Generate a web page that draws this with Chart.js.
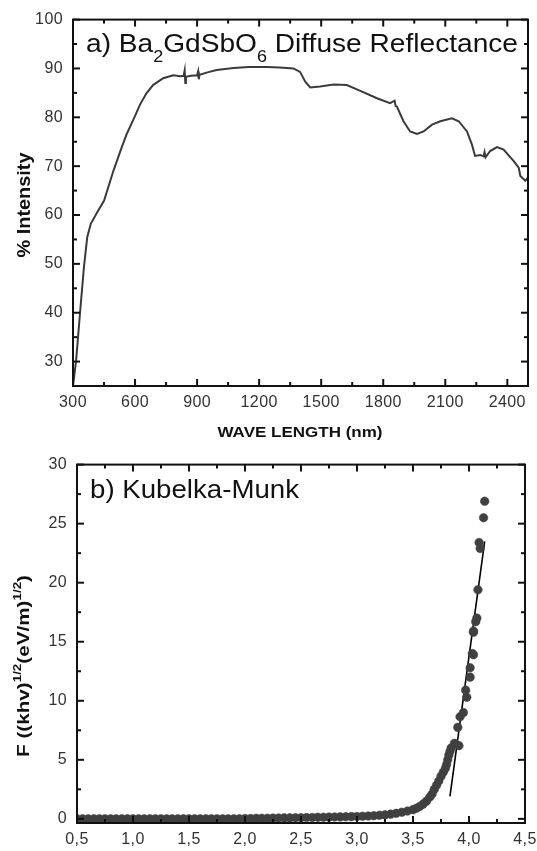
<!DOCTYPE html>
<html>
<head>
<meta charset="utf-8">
<title>Ba2GdSbO6 diffuse reflectance / Kubelka-Munk</title>
<script src="https://cdn.jsdelivr.net/npm/chart.js@4.4.1/dist/chart.umd.min.js"></script>
<style>
    html, body { margin: 0; padding: 0; background: #fff; }
    #wrap { position: relative; width: 537px; height: 851px; }
    .box { position: absolute; left: 0; width: 537px; }
    #boxA { top: 0; height: 445px; }
    #boxB { top: 445px; height: 406px; }
</style>
</head>
<body>
<div id="wrap">
    <div class="box" id="boxA"><canvas id="reflChart"></canvas></div>
    <div class="box" id="boxB"><canvas id="kmChart"></canvas></div>
</div>
<script>
// ========== DATA ==========

// (a) diffuse reflectance
const waveLength = [300, 315, 334, 353, 369, 386, 422, 450, 495, 535, 559, 599, 624, 655, 687, 736, 784,
    820, 835, 840, 843, 846, 870, 900, 905, 908, 912, 950, 995, 1076, 1150, 1237, 1300, 1366, 1398, 1423,
    1447, 1495, 1560, 1624, 1689, 1770, 1833, 1855, 1860, 1866, 1898, 1930, 1963, 1995, 2036, 2076, 2132,
    2165, 2205, 2229, 2244, 2269, 2285, 2290, 2295, 2317, 2350, 2382, 2430, 2455, 2463, 2487, 2500];
const intensity = [25.0, 30.2, 40.0, 49.4, 55.5, 58.2, 60.9, 62.9, 69.0, 73.8, 76.5, 80.2, 82.6, 84.9, 86.6, 88.0, 88.6,
    88.4, 88.5, 89.6, 87.0, 88.3, 88.5, 88.6, 89.4, 87.8, 88.7, 89.2, 89.7, 90.1, 90.3, 90.3, 90.2, 90.0, 89.3, 87.3,
    86.1, 86.3, 86.7, 86.6, 85.4, 83.9, 82.9, 83.4, 82.3, 82.2, 79.2, 77.1, 76.6, 77.1, 78.5, 79.2, 79.8,
    79.2, 77.1, 74.4, 72.1, 72.3, 72.0, 72.9, 71.8, 73.1, 73.9, 73.4, 71.1, 69.7, 68.0, 67.0, 67.7];
const waveMajorTicks = [300, 600, 900, 1200, 1500, 1800, 2100, 2400];
const waveMinorTicks = [450, 750, 1050, 1350, 1650, 1950, 2250];
const intensityMajorTicks = [30, 40, 50, 60, 70, 80, 90, 100];
const intensityMinorTicks = [35, 45, 55, 65, 75, 85, 95];

// (b) Kubelka-Munk
const kmEnergy = [0.50, 0.55, 0.60, 0.65, 0.70, 0.75, 0.80, 0.85, 0.90, 0.95,
    1.00, 1.05, 1.10, 1.15, 1.20, 1.25, 1.30, 1.35, 1.40, 1.45,
    1.50, 1.55, 1.60, 1.65, 1.70, 1.75, 1.80, 1.85, 1.90, 1.95,
    2.00, 2.05, 2.10, 2.15, 2.20, 2.25, 2.30, 2.35, 2.40, 2.45,
    2.50, 2.55, 2.60, 2.65, 2.70, 2.75, 2.80, 2.85, 2.90, 2.95,
    3.00, 3.05, 3.10, 3.15, 3.20, 3.25, 3.30, 3.35, 3.40, 3.45,
    3.50, 3.53, 3.56, 3.59, 3.62, 3.65, 3.67, 3.69, 3.71, 3.73, 3.75, 3.77, 3.79, 3.80, 3.81, 3.82, 3.83,
    3.84, 3.87, 3.91, 3.90, 3.92, 3.95, 3.98, 3.97, 4.01, 4.01, 4.03, 4.04, 4.04, 4.04, 4.06, 4.07, 4.08,
    4.09, 4.10, 4.13, 4.14];
const kmValue = [0, 0, 0, 0, 0, 0, 0, 0, 0, 0,
    0, 0, 0, 0, 0, 0, 0, 0, 0, 0,
    0, 0, 0, 0, 0, 0, 0, 0, 0, 0,
    0.03, 0.03, 0.04, 0.05, 0.05, 0.06, 0.07, 0.08, 0.08, 0.09,
    0.10, 0.11, 0.12, 0.13, 0.14, 0.15, 0.16, 0.17, 0.18, 0.19,
    0.20, 0.22, 0.24, 0.27, 0.30, 0.34, 0.40, 0.47, 0.56, 0.66,
    0.78, 0.90, 1.05, 1.25, 1.50, 1.85, 2.10, 2.50, 2.85, 3.20, 3.60, 3.95, 4.30, 4.60, 5.00, 5.40, 5.70,
    6.0, 6.4, 6.2, 7.75, 8.65, 9.0, 10.3, 10.9, 12.0, 12.8, 14.0, 13.9, 15.8, 15.9, 16.7, 17.0, 19.4,
    23.4, 22.9, 25.5, 26.9];
// linear fit of the absorption edge
const fitEnergy = [3.83, 4.14];
const fitValue = [1.9, 23.5];
const energyMajorTicks = [0.5, 1.0, 1.5, 2.0, 2.5, 3.0, 3.5, 4.0, 4.5];
const energyMinorTicks = [0.75, 1.25, 1.75, 2.25, 2.75, 3.25, 3.75, 4.25];
const kmMajorTicks = [0, 5, 10, 15, 20, 25, 30];
const kmMinorTicks = [2.5, 7.5, 12.5, 17.5, 22.5, 27.5];

// ========== HELPERS ==========

const FAMILY = '"Liberation Sans", Arial, sans-serif';

// draws text made of normal / sub / sup pieces, optionally squeezed to a width
function richText(ctx, parts, x, y, opt) {
    const size = opt.size, weight = opt.weight || 'normal';
    const fontFor = p => weight + ' ' + (p.s ? Math.round(size * 0.62) : size) + 'px ' + FAMILY;
    ctx.save();
    ctx.letterSpacing = '0px';
    ctx.fillStyle = opt.color || '#111';
    ctx.textBaseline = 'alphabetic';
    ctx.textAlign = 'left';
    ctx.translate(x, y);
    if (opt.rotate) ctx.rotate(-Math.PI / 2);
    let w = 0;
    parts.forEach(p => { ctx.font = fontFor(p); w += ctx.measureText(p.t).width; });
    const sx = opt.width ? opt.width / w : 1;
    if (opt.center) ctx.translate(-w * sx / 2, 0);
    ctx.scale(sx, 1);
    let cx = 0;
    parts.forEach(p => {
        ctx.font = fontFor(p);
        const dy = p.s === 'sub' ? size * 0.4 : (p.s === 'sup' ? -size * 0.45 : 0);
        ctx.fillText(p.t, cx, dy);
        cx += ctx.measureText(p.t).width;
    });
    ctx.restore();
}

// box frame + inward ticks on all four sides, then the text labels
const framePlugin = {
    id: 'frame',
    beforeDraw(chart) {
        chart.ctx.letterSpacing = '0.4px';
    },
    afterDraw(chart, args, opts) {
        const {ctx, chartArea: a, scales: {x, y}} = chart;
        ctx.save();
        ctx.strokeStyle = '#111';
        ctx.lineWidth = 2;
        const seg = (x1, y1, x2, y2) => {
            ctx.beginPath(); ctx.moveTo(x1, y1); ctx.lineTo(x2, y2); ctx.stroke();
        };
        const xTicks = (vals, len) => vals.forEach(v => {
            const px = x.getPixelForValue(v);
            seg(px, a.bottom, px, a.bottom - len);
            seg(px, a.top, px, a.top + len);
        });
        const yTicks = (vals, len) => vals.forEach(v => {
            const py = y.getPixelForValue(v);
            seg(a.left, py, a.left + len, py);
            seg(a.right, py, a.right - len, py);
        });
        xTicks(opts.xMajor, 7); xTicks(opts.xMinor, 4);
        yTicks(opts.yMajor, 7); yTicks(opts.yMinor, 4);
        ctx.strokeRect(a.left, a.top, a.width, a.height);
        ctx.restore();
        if (opts.labels) opts.labels(ctx);
    }
};

const tickFont = {family: FAMILY, size: 16};

// x scale keeps its fixed height and does not reserve room for edge labels
const fixXAxis = h => s => { s.height = h; s.paddingLeft = 0; s.paddingRight = 0; };

// ========== (a) DIFFUSE REFLECTANCE ==========

new Chart(document.getElementById('reflChart'), {
    type: 'line',
    data: {
        datasets: [{
            data: waveLength.map((w, i) => ({x: w, y: intensity[i]})),
            borderColor: '#3a3a3a',
            borderWidth: 2,
            pointRadius: 0,
            tension: 0
        }]
    },
    options: {
        responsive: true,
        maintainAspectRatio: false,
        animation: false,
        layout: {padding: {top: 17, right: 9, left: 0, bottom: 0}},
        scales: {
            x: {
                type: 'linear', min: 300, max: 2500,
                afterFit: fixXAxis(445 - 386),
                grid: {display: false, drawTicks: false},
                border: {display: false},
                ticks: {stepSize: 300, includeBounds: false, padding: 7, color: '#333', font: tickFont,
                    autoSkip: false, maxRotation: 0, callback: v => String(v)}
            },
            y: {
                min: 25, max: 100,
                afterFit: s => { s.width = 73; },
                grid: {display: false, drawTicks: false},
                border: {display: false},
                ticks: {stepSize: 10, includeBounds: false, padding: 10, color: '#333', font: tickFont}
            }
        },
        plugins: {
            legend: {display: false},
            tooltip: {enabled: false},
            frame: {
                xMajor: waveMajorTicks, xMinor: waveMinorTicks,
                yMajor: intensityMajorTicks, yMinor: intensityMinorTicks,
                labels: ctx => {
                    richText(ctx, [{t: 'a) Ba'}, {t: '2', s: 'sub'}, {t: 'GdSbO'}, {t: '6', s: 'sub'},
                        {t: ' Diffuse Reflectance'}], 86, 52, {size: 25, width: 432});
                    richText(ctx, [{t: '% Intensity'}], 30, 205,
                        {size: 19, weight: 'bold', rotate: true, center: true, width: 105});
                    richText(ctx, [{t: 'WAVE LENGTH (nm)'}], 300, 437,
                        {size: 15, weight: 'bold', center: true, width: 165});
                }
            }
        }
    },
    plugins: [framePlugin]
});

// ========== (b) KUBELKA-MUNK ==========

new Chart(document.getElementById('kmChart'), {
    type: 'scatter',
    data: {
        datasets: [{
            data: kmEnergy.map((e, i) => ({x: e, y: kmValue[i]})),
            backgroundColor: '#404040',
            borderColor: '#404040',
            borderWidth: 0.5,
            pointRadius: 4.3
        }, {
            type: 'line',
            data: fitEnergy.map((e, i) => ({x: e, y: fitValue[i]})),
            borderColor: '#000',
            borderWidth: 1.6,
            pointRadius: 0
        }]
    },
    options: {
        responsive: true,
        maintainAspectRatio: false,
        animation: false,
        layout: {padding: {top: 17, right: 12, left: 0, bottom: 0}},
        scales: {
            x: {
                type: 'linear', min: 0.5, max: 4.5,
                afterFit: fixXAxis(406 - 378),
                grid: {display: false, drawTicks: false},
                border: {display: false},
                ticks: {stepSize: 0.5, padding: 7, color: '#333', font: tickFont, autoSkip: false,
                    maxRotation: 0, callback: v => v.toFixed(1).replace('.', ',')}
            },
            y: {
                min: -0.35, max: 30,
                afterFit: s => { s.width = 77; },
                grid: {display: false, drawTicks: false},
                border: {display: false},
                ticks: {stepSize: 5, includeBounds: false, padding: 10, color: '#333', font: tickFont}
            }
        },
        plugins: {
            legend: {display: false},
            tooltip: {enabled: false},
            frame: {
                xMajor: energyMajorTicks, xMinor: energyMinorTicks,
                yMajor: kmMajorTicks, yMinor: kmMinorTicks,
                labels: ctx => {
                    richText(ctx, [{t: 'b) Kubelka-Munk'}], 90, 53, {size: 25, width: 209});
                    richText(ctx, [{t: 'F ((khv)'}, {t: '1/2', s: 'sup'}, {t: '(eV/m)'}, {t: '1/2', s: 'sup'},
                        {t: ')'}], 29, 221, {size: 17, weight: 'bold', rotate: true, center: true, width: 182});
                }
            }
        }
    },
    plugins: [framePlugin]
});
</script>
</body>
</html>
